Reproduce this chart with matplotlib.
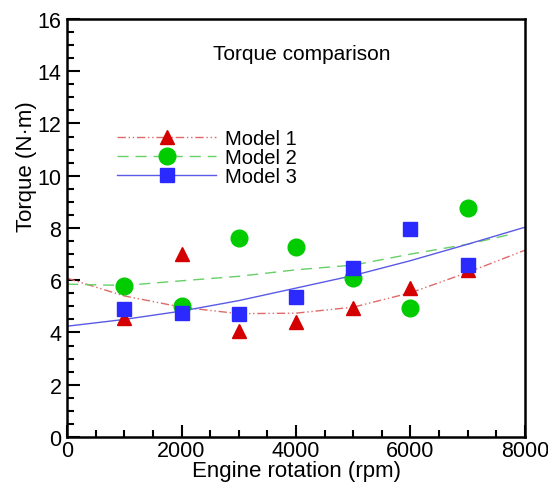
import matplotlib
matplotlib.use("Agg")
import matplotlib.pyplot as plt
from matplotlib.ticker import MultipleLocator

plt.rcParams["font.family"] = ["Liberation Sans", "DejaVu Sans"]

# measured points
rpm = [1000, 2000, 3000, 4000, 5000, 6000, 7000]
model1 = [4.55, 7.0, 4.05, 4.4, 4.95, 5.7, 6.38]
model2 = [5.78, 5.03, 7.62, 7.28, 6.1, 4.95, 8.75]
model3 = [4.9, 4.73, 4.7, 5.36, 6.45, 7.98, 6.57]

# trend curves
curve_rpm = [0, 1000, 2000, 3000, 4000, 5000, 6000, 7000, 8000]
curve1 = [6.08, 5.4, 4.97, 4.72, 4.74, 4.97, 5.52, 6.3, 7.15]
curve2_rpm = [0, 1000, 2000, 3000, 4000, 5000, 6000, 7000, 7800]
curve2 = [5.85, 5.8, 5.98, 6.15, 6.4, 6.58, 7.0, 7.38, 7.78]
curve3 = [4.24, 4.5, 4.82, 5.22, 5.7, 6.18, 6.75, 7.38, 8.03]

fig = plt.figure(figsize=(5.48, 4.85), dpi=100)
ax = fig.add_axes([0.1223, 0.0969, 0.8357, 0.8619])

ax.plot(curve_rpm, curve1, color="#e06a6a", lw=1.0, dashes=(6, 2, 1, 2, 1, 2))
ax.plot(curve2_rpm, curve2, color="#66d066", lw=1.0, dashes=(8, 5))
ax.plot(curve_rpm, curve3, color="#5a5ae6", lw=1.0)

ax.plot(rpm, model1, ls="none", marker="^", ms=10.5, color="#d40000", mec="#d40000")
ax.plot(rpm, model2, ls="none", marker="o", ms=12, color="#00cc00", mec="#00cc00")
ax.plot(rpm, model3, ls="none", marker="s", ms=9.5, color="#2a2aff", mec="#2a2aff")

# legend proxies: line + marker
h1, = ax.plot([], [], color="#e06a6a", lw=1.0, dashes=(6, 2, 1, 2, 1, 2),
              marker="^", ms=10.5, mfc="#d40000", mec="#d40000")
h2, = ax.plot([], [], color="#66d066", lw=1.0, dashes=(8, 5),
              marker="o", ms=12, mfc="#00cc00", mec="#00cc00")
h3, = ax.plot([], [], color="#5a5ae6", lw=1.0,
              marker="s", ms=9.5, mfc="#2a2aff", mec="#2a2aff")
ax.legend([h1, h2, h3], ["Model 1", "Model 2", "Model 3"], loc="upper left",
          bbox_to_anchor=(0.11, 0.737), frameon=False, fontsize=14.5,
          numpoints=1, handlelength=4.9, handletextpad=0.45,
          labelspacing=0.0, borderpad=0, borderaxespad=0)

ax.text(0.513, 0.918, "Torque comparison", transform=ax.transAxes,
        ha="center", va="center", fontsize=15)

ax.set_xlim(0, 8000)
ax.set_ylim(0, 16)
ax.xaxis.set_major_locator(MultipleLocator(2000))
ax.xaxis.set_minor_locator(MultipleLocator(500))
ax.yaxis.set_major_locator(MultipleLocator(2))
ax.yaxis.set_minor_locator(MultipleLocator(0.5))
ax.tick_params(which="both", direction="in", top=False, right=False,
               labelsize=15.5, width=1.5)
ax.tick_params(which="major", length=9, pad=4)
ax.tick_params(which="minor", length=5)
ax.tick_params(axis="x", which="major", pad=2)
for s in ax.spines.values():
    s.set_linewidth(1.8)

ax.set_xlabel("Engine rotation (rpm)", fontsize=16, labelpad=-0.5)
ax.set_ylabel("Torque (N\u00b7m)", fontsize=16)
ax.yaxis.set_label_coords(-0.066, 0.65)

fig.savefig("out.png", dpi=100)
